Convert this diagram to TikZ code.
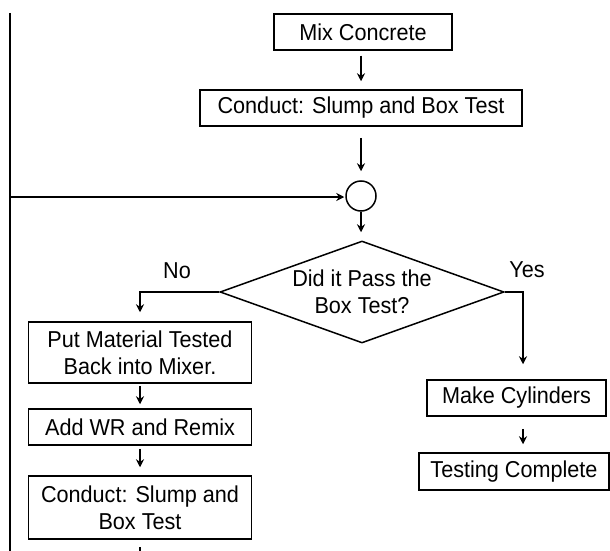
\documentclass[tikz,border=0pt]{standalone}
\usepackage{fontspec}
\setmainfont[FakeStretch=0.94]{Liberation Sans}
\usetikzlibrary{arrows.meta,shapes.geometric}
\begin{document}
\begin{tikzpicture}[x=1pt,y=-1pt, line width=1.5pt,
  txt/.style={font=\fontsize{23}{27}\selectfont},
  box/.style={draw, rectangle, inner sep=0pt, align=center, txt},
  arr/.style={-{Stealth[length=8pt,width=8pt]}}]
\useasboundingbox (0,0) rectangle (610,551);
% main column
\node[box, minimum width=178pt, minimum height=36pt] (mix) at (363,32) {Mix Concrete};
\node[box, minimum width=322pt, minimum height=36pt] (cst) at (361,108) {Conduct: Slump and Box Test};
\node[draw, circle, minimum size=30pt, inner sep=0pt] (jn) at (361,196) {};
\node[draw, diamond, aspect=2.78, minimum width=284pt, minimum height=102pt, inner sep=0pt, align=center, txt] (dec) at (362,292) {Did it Pass the\\Box Test?};
% labels
\node[txt] (no) at (177,271) {No};
\node[txt] (yes) at (527,270) {Yes};
% left column
\node[box, minimum width=223pt, minimum height=61pt] (put) at (140,352.5) {Put Material Tested\\Back into Mixer.};
\node[box, minimum width=223pt, minimum height=36pt] (add) at (140,427) {Add WR and Remix};
\node[box, minimum width=223pt, minimum height=63pt] (cst2) at (140,507.5) {Conduct: Slump and\\Box Test};
% right column
\node[box, minimum width=179pt, minimum height=36pt] (cyl) at (516.5,398) {Make Cylinders};
\node[box, minimum width=190pt, minimum height=37pt] (done) at (514,471.5) {Testing Complete};
% helper coordinates
\coordinate (lb) at (140,292);
\coordinate (rb) at (523,292);
\coordinate (lt) at (10,13);
\coordinate (lbot) at (10,560);
\coordinate (lj) at (10,197);
\coordinate (tail) at (140,547);
% connectors
\draw[arr, shorten <=5pt, shorten >=8pt] (mix.south -| jn) -- (cst.north -| jn);
\draw[arr, shorten <=11pt, shorten >=9pt] (cst.south -| jn) -- (jn.north);
\draw[arr, shorten >=8pt] (jn.south) -- (dec.north -| jn);
\draw[arr, shorten >=9pt] (dec.west) -- (lb) -- (put.north -| lb);
\draw[arr, shorten >=15pt] (dec.east) -- (rb) -- (cyl.north -| rb);
\draw[arr, shorten <=12pt, shorten >=8pt] (cyl.south -| rb) -- (done.north -| rb);
\draw[arr, shorten <=2pt, shorten >=4pt] (put.south) -- (add.north);
\draw[arr, shorten <=3pt, shorten >=8pt] (add.south) -- (cst2.north);
\draw (lt) -- (lbot);
\draw[arr, shorten >=1pt] (lj) -- (lj -| jn.west);
\draw (tail) -- ++(0,10);
\end{tikzpicture}
\end{document}
